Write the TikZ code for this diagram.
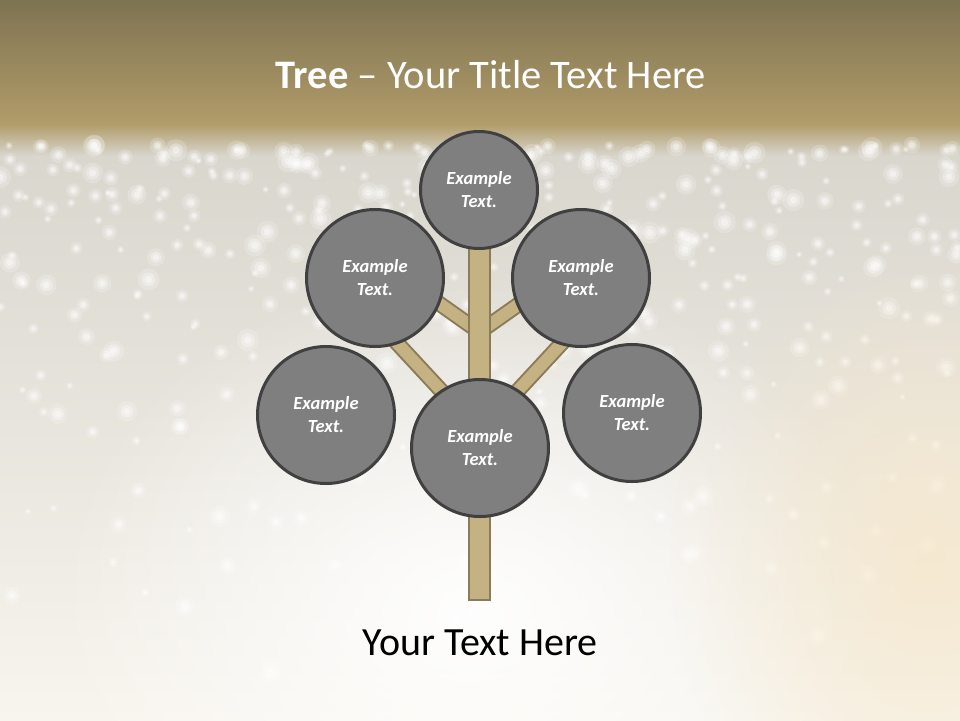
\documentclass[tikz,border=0pt]{standalone}
\usepackage{fontspec}
\setmainfont{Carlito}
\usetikzlibrary{fadings}
\tikzfading[name=glowfade, inner color=transparent!0, outer color=transparent!100]
\definecolor{bandtop}{HTML}{7E7352}
\definecolor{bandbot}{HTML}{B19C69}
\definecolor{mist}{HTML}{D9D6CE}
\definecolor{cream}{HTML}{F8F5EE}
\definecolor{warm}{HTML}{F7E8CC}
\definecolor{barkfill}{HTML}{C4B283}
\definecolor{barkline}{HTML}{8A7C58}
\definecolor{discfill}{HTML}{7F7F7F}
\definecolor{discline}{HTML}{404040}
\begin{document}
\begin{tikzpicture}[x=1pt,y=-1pt,
  disc/.style={circle, fill=discfill, draw=discline, line width=3pt,
    minimum size=#1, inner sep=0pt, text=white, align=center,
    font=\fontsize{18.5}{23}\selectfont\bfseries\itshape},
  branchedge/.style={line width=16pt, draw=barkline},
  branchcore/.style={line width=12pt, draw=barkfill},
  trunkbox/.style={fill=barkfill, draw=barkline, line width=2pt}]
\useasboundingbox (0,0) rectangle (960,720);
% background
\shade[top color=mist, bottom color=cream] (0,154) rectangle (960,720);
\shade[top color=bandtop, bottom color=bandbot] (0,0) rectangle (960,124);
\shade[top color=bandbot, bottom color=mist] (0,124) rectangle (960,156);
\pgfmathsetseed{11}
\foreach \i in {1,...,430}{
  \pgfmathsetmacro{\sx}{rnd*960}
  \pgfmathsetmacro{\sy}{145+550*rnd*rnd}
  \pgfmathsetmacro{\sr}{2+rnd*5}
  \fill[white, opacity=0.18] (\sx,\sy) circle[radius=1.6*\sr pt];
  \fill[white, opacity=0.3] (\sx,\sy) circle[radius=\sr pt];
  \fill[white, opacity=0.4] (\sx,\sy) circle[radius=0.55*\sr pt];
}
\fill[white, path fading=glowfade, opacity=0.95] (470,610) ellipse[x radius=420pt, y radius=340pt];
\fill[warm, path fading=glowfade, opacity=0.8] (930,560) ellipse[x radius=260pt, y radius=320pt];
% branches
\coordinate (ulA) at (479.5,332);  \coordinate (ulB) at (420,290);
\coordinate (urA) at (479.5,332);  \coordinate (urB) at (539,290);
\coordinate (llA) at (479.5,432);  \coordinate (llB) at (385,330);
\coordinate (lrA) at (479.5,432);  \coordinate (lrB) at (574,330);
\foreach \a/\b in {ulA/ulB, urA/urB, llA/llB, lrA/lrB}{
  \draw[branchedge] (\a) -- (\b);
  \draw[branchcore] (\a) -- (\b);
}
% trunk
\draw[trunkbox] (469,245) rectangle (490,600);
% discs
\node[disc=117pt] (top) at (479,190) {Example\\Text.};
\node[disc=137pt] (ul) at (375,278) {Example\\Text.};
\node[disc=137pt] (ur) at (581,278) {Example\\Text.};
\node[disc=137pt] (ll) at (326,415) {Example\\Text.};
\node[disc=137pt] (lr) at (632,413) {Example\\Text.};
\node[disc=137pt] (mid) at (480,448) {Example\\Text.};
% texts
\node[text=white, font=\fontsize{40.5}{48}\selectfont] (title) at (491,75) {\textbf{Tree} – Your Title Text Here};
\node[text=black, font=\fontsize{40}{48}\selectfont] (caption) at (480,643) {Your Text Here};
\end{tikzpicture}
\end{document}
